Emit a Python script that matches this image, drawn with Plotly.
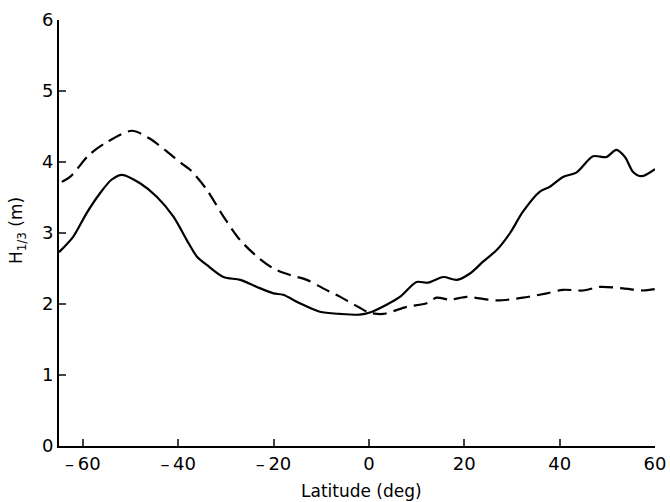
import plotly.graph_objects as go

# Solid curve
solid_lat = [-65, -62, -59.2, -56.4, -54, -51.8, -48, -44.5, -41, -38.2, -36.1, -34, -30.5, -27,
             -23.5, -20, -18, -14.5, -10.3, -6, -1.9, 0.2, 3.7, 6.5, 10, 12.4, 15.6, 18.4, 21.2,
             24, 26.8, 29.6, 32.3, 35.8, 37.9, 40.7, 43.5, 47, 49.8, 51.9, 53.7, 55.4, 57.2, 60]
solid_h = [2.73, 2.95, 3.28, 3.56, 3.75, 3.82, 3.70, 3.51, 3.23, 2.90, 2.67, 2.55, 2.38, 2.34,
           2.24, 2.15, 2.13, 2.01, 1.89, 1.86, 1.85, 1.88, 1.99, 2.10, 2.31, 2.30, 2.38, 2.34, 2.43,
           2.60, 2.76, 3.00, 3.30, 3.58, 3.65, 3.79, 3.85, 4.08, 4.07, 4.17, 4.07, 3.86, 3.80, 3.90]

# Dashed curve
dash_lat = [-64.4, -62.5, -58.7, -55.2, -49.7, -46, -42.8, -39.3, -37.5, -34, -30.5, -27, -23.5,
            -20, -16.6, -13, -9.6, -6, -2, 0, 3, 7.9, 12.1, 14.2, 17, 20.5, 26.8, 32.3, 37.3,
            40.7, 44.9, 48.4, 53.3, 57.5, 60]
dash_h = [3.72, 3.80, 4.10, 4.27, 4.44, 4.33, 4.17, 3.98, 3.89, 3.61, 3.23, 2.90, 2.67,
          2.50, 2.41, 2.34, 2.22, 2.10, 1.95, 1.88, 1.86, 1.96, 2.01, 2.09, 2.06, 2.10, 2.05, 2.09, 2.15,
          2.20, 2.19, 2.24, 2.22, 2.19, 2.21]

x_ticks = [-60, -40, -20, 0, 20, 40, 60]
x_tick_labels = ["\u2013\u200960", "\u2013\u200940", "\u2013\u200920", "0", "20", "40", "60"]
y_ticks = [0, 1, 2, 3, 4, 5, 6]

FONT = "DejaVu Sans"

fig = go.Figure()
fig.add_trace(go.Scatter(x=solid_lat, y=solid_h, mode="lines",
                         line=dict(color="black", width=2.2, shape="spline", smoothing=0.8),
                         showlegend=False))
fig.add_trace(go.Scatter(x=dash_lat, y=dash_h, mode="lines",
                         line=dict(color="black", width=2.2, dash="14px,7px", shape="spline", smoothing=0.8),
                         showlegend=False))

fig.update_layout(
    width=670, height=502,
    margin=dict(l=59, r=15, t=20, b=56, autoexpand=False),
    paper_bgcolor="white", plot_bgcolor="white",
    font=dict(family=FONT, size=17, color="black"),
    xaxis=dict(range=[-65, 60], tickvals=x_ticks, ticktext=x_tick_labels, ticks="inside", ticklen=7, tickwidth=2,
               showline=True, linewidth=2, linecolor="black", showgrid=False, zeroline=False,
               tickfont=dict(size=18, family=FONT), automargin=False, fixedrange=True),
    yaxis=dict(range=[0, 6], tickvals=y_ticks, ticks="inside", ticklen=7, tickwidth=2,
               showline=True, linewidth=2, linecolor="black", showgrid=False, zeroline=False,
               tickfont=dict(size=18, family=FONT), automargin=False, fixedrange=True),
    annotations=[
        dict(text="Latitude (deg)", xref="paper", yref="paper", x=0.507, y=-0.1056,
             xanchor="center", yanchor="middle", showarrow=False, font=dict(size=17, family=FONT)),
        dict(text="H<sub>1/3</sub> (m)", xref="paper", yref="paper", x=-0.0705, y=0.507,
             xanchor="center", yanchor="middle", textangle=-90, showarrow=False,
             font=dict(size=17, family=FONT)),
    ],
)

fig.write_html("out.html", config={"displayModeBar": False},
               post_script="document.body.style.margin='0';document.body.style.overflow='hidden';")
